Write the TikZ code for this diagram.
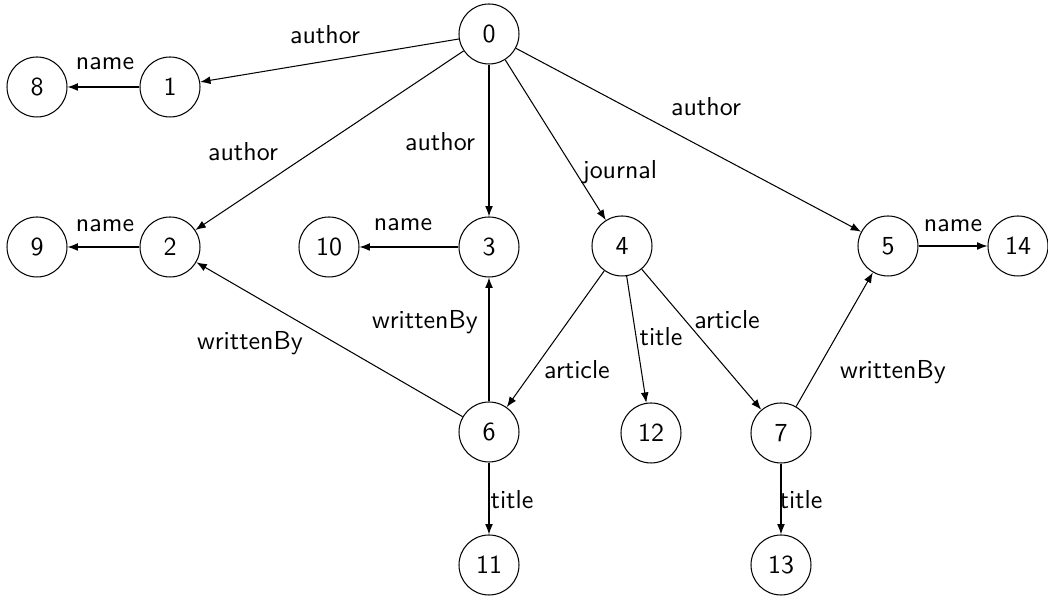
\documentclass[tikz,border=0pt]{standalone}
\usetikzlibrary{arrows.meta}
\begin{document}
\begin{tikzpicture}[x=0.385pt,y=-0.385pt,
  vert/.style={draw,circle,minimum size=23.1pt,inner sep=0pt,font=\sffamily,line width=0.4pt},
  lab/.style={inner sep=0pt,font=\sffamily},
  arc/.style={-{Latex[length=4pt,width=3pt]},line width=0.4pt}]
\useasboundingbox (0,0) rectangle (1048,600);
\node[vert] (n0) at (489,34) {0};
\node[vert] (n1) at (170,87) {1};
\node[vert] (n8) at (37,87) {8};
\node[vert] (n2) at (170,247) {2};
\node[vert] (n9) at (37,247) {9};
\node[vert] (n10) at (329,247) {10};
\node[vert] (n3) at (489,247) {3};
\node[vert] (n4) at (622,246) {4};
\node[vert] (n5) at (888,246) {5};
\node[vert] (n14) at (1018,246) {14};
\node[vert] (n6) at (489,432) {6};
\node[vert] (n12) at (651,433) {12};
\node[vert] (n7) at (781,433) {7};
\node[vert] (n11) at (489,565) {11};
\node[vert] (n13) at (781,565) {13};
\draw[arc] (n0) -- (n1);
\draw[arc] (n1) -- (n8);
\draw[arc] (n0) -- (n2);
\draw[arc] (n0) -- (n3);
\draw[arc] (n0) -- (n4);
\draw[arc] (n0) -- (n5);
\draw[arc] (n2) -- (n9);
\draw[arc] (n3) -- (n10);
\draw[arc] (n5) -- (n14);
\draw[arc] (n6) -- (n2);
\draw[arc] (n6) -- (n3);
\draw[arc] (n4) -- (n6);
\draw[arc] (n4) -- (n12);
\draw[arc] (n4) -- (n7);
\draw[arc] (n7) -- (n5);
\draw[arc] (n6) -- (n11);
\draw[arc] (n7) -- (n13);
\node[lab] (l01) at (325,35) {author};
\node[lab] (l18) at (105,64) {name};
\node[lab] (l02) at (243,152) {author};
\node[lab] (l03) at (440,142) {author};
\node[lab] (l04) at (620,172) {journal};
\node[lab] (l05) at (706,107) {author};
\node[lab] (l29) at (105,226) {name};
\node[lab] (l310) at (403,225) {name};
\node[lab] (l514) at (953,226) {name};
\node[lab] (l62) at (250,343) {writtenBy};
\node[lab] (l63) at (425,322) {writtenBy};
\node[lab] (l46) at (577,370) {article};
\node[lab] (l412) at (661,337) {title};
\node[lab] (l47) at (727,320) {article};
\node[lab] (l75) at (893,372) {writtenBy};
\node[lab] (l611) at (512,500) {title};
\node[lab] (l713) at (801,500) {title};
\end{tikzpicture}
\end{document}
